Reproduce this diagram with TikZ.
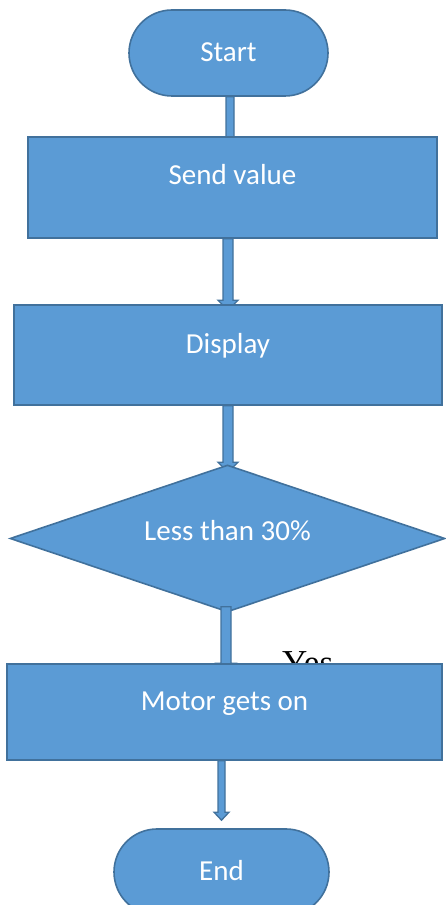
\documentclass[tikz,border=0pt]{standalone}
\usepackage{fontspec}
\setmainfont{Carlito}
\newfontfamily\yesfont{Liberation Serif}
\usetikzlibrary{shapes.geometric,calc}
\definecolor{blu}{HTML}{5B9BD5}
\definecolor{bdr}{HTML}{41719C}
\pgfdeclarelayer{back}
\pgfdeclarelayer{mid}
\pgfsetlayers{back,mid,main}
\newcommand\lift[2]{\raisebox{#1}[0pt][0pt]{#2}}
% #1 start, #2 tip, #3 shaft half-width, #4 head half-width, #5 head length
\newcommand\blkarrow[5]{%
  \filldraw[conn] let \p1=(#1), \p2=(#2) in
    (\x1-#3,\y1) -- (\x1+#3,\y1) -- (\x1+#3,\y2+#5) -- (\x1+#4,\y2+#5) --
    (\x1,\y2) -- (\x1-#4,\y2+#5) -- (\x1-#3,\y2+#5) -- cycle;}
\tikzset{
  shp/.style={draw=bdr, fill=blu, line width=1.6pt, text=white, inner sep=0pt,
    font=\fontsize{29}{35}\selectfont},
  term/.style={shp, rectangle, rounded corners=43pt},
  procbox/.style={shp, rectangle},
  decbox/.style={shp, diamond, shape aspect=3},
  conn/.style={draw=bdr, fill=blu, line width=1.3pt},
}
\begin{document}
\begin{tikzpicture}[x=1pt,y=1pt]
\useasboundingbox (0,0) rectangle (446,905);
\clip (0,0) rectangle (446,905);
\node[term, minimum width=199pt, minimum height=86pt] (start) at (228.5,852) {\lift{-9pt}{Start}};
\node[procbox, minimum width=409pt, minimum height=101pt] (send) at (232.5,717.5) {\lift{2.5pt}{Send value}};
\node[procbox, minimum width=428pt, minimum height=100pt] (disp) at (228,550) {\lift{1.7pt}{Display}};
\begin{pgfonlayer}{mid}
\node[decbox, minimum width=435pt, minimum height=147pt] (dec) at (227.5,366.5) {\lift{-2.2pt}{Less than 30\%}};
\node[anchor=base west, inner sep=0pt, font=\yesfont\fontsize{35}{40}\selectfont] (yes) at (282,230.5) {Yes};
\end{pgfonlayer}
\node[procbox, minimum width=435pt, minimum height=96pt] (motor) at (224.5,193) {\lift{1pt}{Motor gets on}};
\node[term, minimum width=215pt, minimum height=86pt] (end) at (221.5,33) {\lift{-9pt}{End}};
\begin{pgfonlayer}{back}
\blkarrow{[xshift=1.5pt]start.south}{[yshift=-12pt]send.north}{4pt}{8pt}{8pt}
\blkarrow{[xshift=-4.5pt]send.south}{[yshift=-6pt]disp.north}{5pt}{10pt}{10pt}
\blkarrow{disp.south}{[yshift=-8pt]dec.north}{5pt}{10pt}{10pt}
\blkarrow{[xshift=-3pt]motor.south}{[yshift=8pt]end.north}{3.5pt}{7.5pt}{8pt}
\end{pgfonlayer}
\begin{pgfonlayer}{mid}
\blkarrow{[shift={(-1.5pt,6pt)}]dec.south}{[yshift=-10pt]motor.north}{5pt}{10pt}{10pt}
\end{pgfonlayer}
\end{tikzpicture}
\end{document}
